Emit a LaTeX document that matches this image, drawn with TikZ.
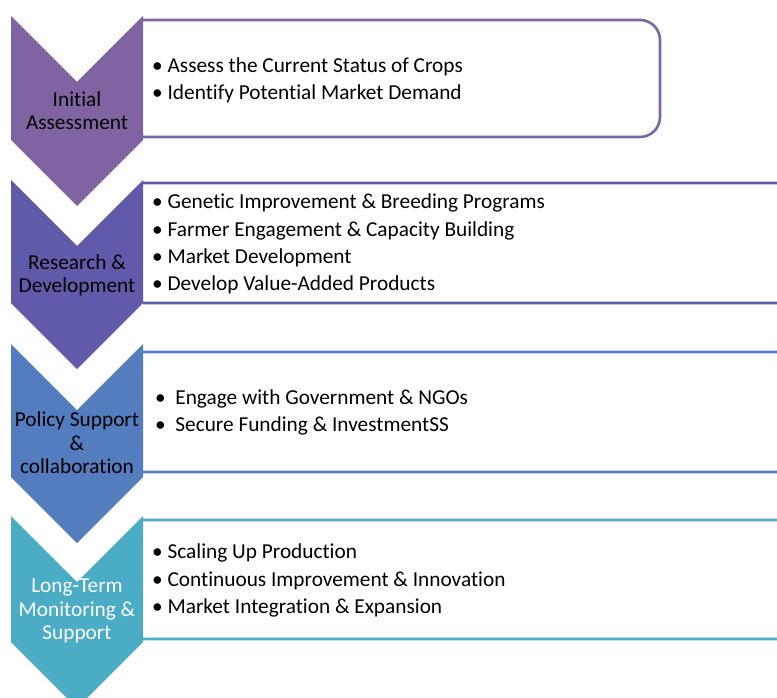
\documentclass[tikz,border=0pt]{standalone}
\usepackage{fontspec}
\setmainfont{Carlito}[Ligatures={NoCommon}]

\definecolor{stepA}{HTML}{8064A2}
\definecolor{stepB}{HTML}{5F5BAA}
\definecolor{stepC}{HTML}{537DBF}
\definecolor{stepD}{HTML}{4BACC6}

\begin{document}
\begin{tikzpicture}[
  x=1pt, y=-1pt,
  panel/.style={draw=#1, line width=2.6pt, fill=white, rounded corners=20pt},
  stage/.style={align=center, font=\fontsize{21.3}{23.5}\selectfont, inner sep=0pt},
  items/.style={align=left, anchor=west, font=\fontsize{21.3}{27.3}\selectfont, inner sep=0pt},
]
  \useasboundingbox (0,0) rectangle (777,698);
  \clip (0,0) rectangle (777,698);

  % text panels behind the chevrons
  \foreach \t/\b/\r/\c in {20/137/660/stepA, 183/303/800/stepB,
                          352/472/800/stepC, 520/639/800/stepD} {
    \draw[panel=\c] (143,\t) -- (\r,\t) -- (\r,\b) -- (143,\b);
  }

  % downward chevrons
  \foreach \t/\b/\c in {16/140/stepA, 180/303/stepB, 344/477/stepC, 516/642/stepD} {
    \fill[\c] (11,\t) -- (77,{\t+66}) -- (143,\t) -- (143,\b)
      -- (77,{\b+66}) -- (11,\b) -- cycle;
  }

  \node[stage] (s1) at (77,110.5) {Initial\\Assessment};
  \node[stage] (s2) at (77,275.5) {Research \&\\Development};
  \node[stage] (s3) at (77,443) {Policy Support\\\&\\collaboration};
  \node[stage, text=white] (s4) at (77,611) {Long-Term\\Monitoring \&\\Support};

  \node[items] (l1) at (152,80.5) {\textbullet\ Assess the Current Status of Crops\\
    \textbullet\ Identify Potential Market Demand};
  \node[items] (l2) at (152,244) {\textbullet\ Genetic Improvement \& Breeding Programs\\
    \textbullet\ Farmer Engagement \& Capacity Building\\
    \textbullet\ Market Development\\
    \textbullet\ Develop Value-Added Products};
  \node[items] (l3) at (155,412.5) {\textbullet\hspace{0.45em}Engage with Government \& NGOs\\
    \textbullet\hspace{0.45em}Secure Funding \& InvestmentSS};
  \node[items] (l4) at (152,580.5) {\textbullet\ Scaling Up Production\\
    \textbullet\ Continuous Improvement \& Innovation\\
    \textbullet\ Market Integration \& Expansion};
\end{tikzpicture}
\end{document}
